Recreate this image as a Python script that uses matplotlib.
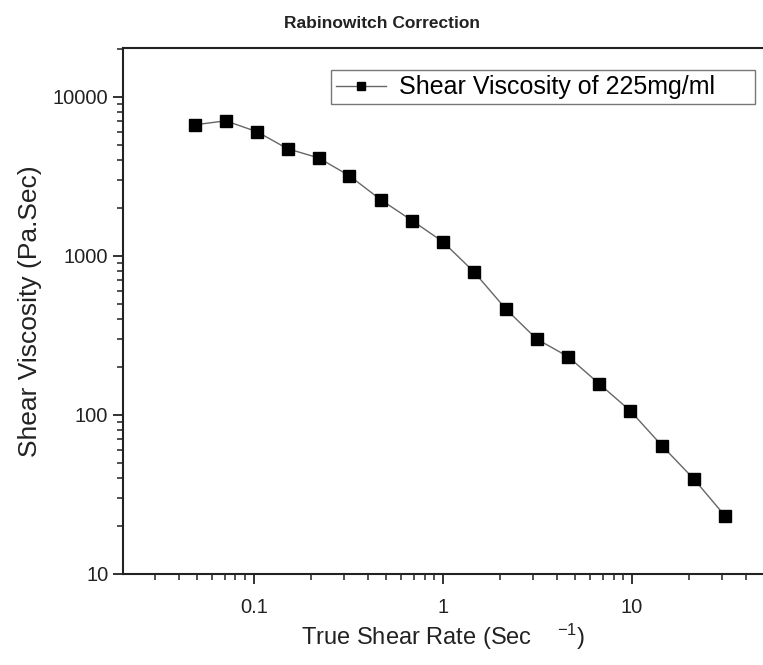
import numpy as np
import matplotlib.pyplot as plt
from matplotlib.ticker import LogLocator, FixedLocator, FixedFormatter, NullFormatter

plt.rcParams['font.family'] = ['Liberation Sans', 'DejaVu Sans']
plt.rcParams['mathtext.fontset'] = 'custom'
plt.rcParams['mathtext.rm'] = 'Liberation Sans'
plt.rcParams['mathtext.it'] = 'Liberation Sans'

# values
shear_rate = [0.049, 0.071, 0.104, 0.151, 0.22, 0.32, 0.47, 0.69, 1.0, 1.46,
              2.15, 3.13, 4.6, 6.7, 9.8, 14.4, 21.2, 31.0]
viscosity = [6670, 7060, 6030, 4710, 4130, 3190, 2250, 1660, 1225, 793,
             464, 300, 232, 157, 106, 64, 39.6, 23.2]

x_ticks = [0.1, 1, 10]
x_labels = ["0.1", "1", "10"]
y_ticks = [10, 100, 1000, 10000]
y_labels = ["10", "100", "1000", "10000"]

fig = plt.figure(figsize=(7.63, 6.65), dpi=100)
ax = fig.add_axes([0.161, 0.137, 0.839, 0.791])

ax.plot(shear_rate, viscosity, color="#666666", lw=1.0, marker="s",
        markersize=8, markerfacecolor="black", markeredgecolor="black",
        label="Shear Viscosity of 225mg/ml     ")

ax.set_xscale("log")
ax.set_yscale("log")
ax.set_xlim(0.0203, 49.3)
ax.set_ylim(10, 20300)

ax.xaxis.set_major_locator(FixedLocator(x_ticks))
ax.xaxis.set_major_formatter(FixedFormatter(x_labels))
ax.yaxis.set_major_locator(FixedLocator(y_ticks))
ax.yaxis.set_major_formatter(FixedFormatter(y_labels))
ax.xaxis.set_minor_locator(LogLocator(base=10, subs=np.arange(2, 10)))
ax.yaxis.set_minor_locator(LogLocator(base=10, subs=np.arange(2, 10)))
ax.xaxis.set_minor_formatter(NullFormatter())
ax.yaxis.set_minor_formatter(NullFormatter())

ax.tick_params(which="major", direction="out", length=7, width=1.3,
               labelsize=14.5, color="#222222", labelcolor="#222222")
ax.tick_params(which="minor", direction="out", length=4, width=1.1,
               color="#222222")
ax.tick_params(axis="x", pad=10)

ax.spines["right"].set_visible(False)
for s in ["left", "bottom", "top"]:
    ax.spines[s].set_linewidth(1.5)
    ax.spines[s].set_color("#222222")

ax.set_xlabel("True Shear Rate (Sec    $^{-1}$)", fontsize=17, labelpad=4,
              color="#222222")
ax.set_ylabel("Shear Viscosity (Pa.Sec)", fontsize=19, labelpad=8,
              color="#222222")
fig.text(0.5, 0.965, "Rabinowitch Correction", fontsize=12.5,
         fontweight="bold", ha="center", va="center", color="#222222")

leg = ax.legend(loc="upper right", bbox_to_anchor=(0.987, 0.957), fontsize=18,
                frameon=True, fancybox=False, edgecolor="#555555",
                handlelength=2.0, handletextpad=0.5, borderpad=0.2,
                borderaxespad=0.0, markerscale=0.75)
leg.get_frame().set_linewidth(1.0)

fig.savefig("out.png", dpi=100)
